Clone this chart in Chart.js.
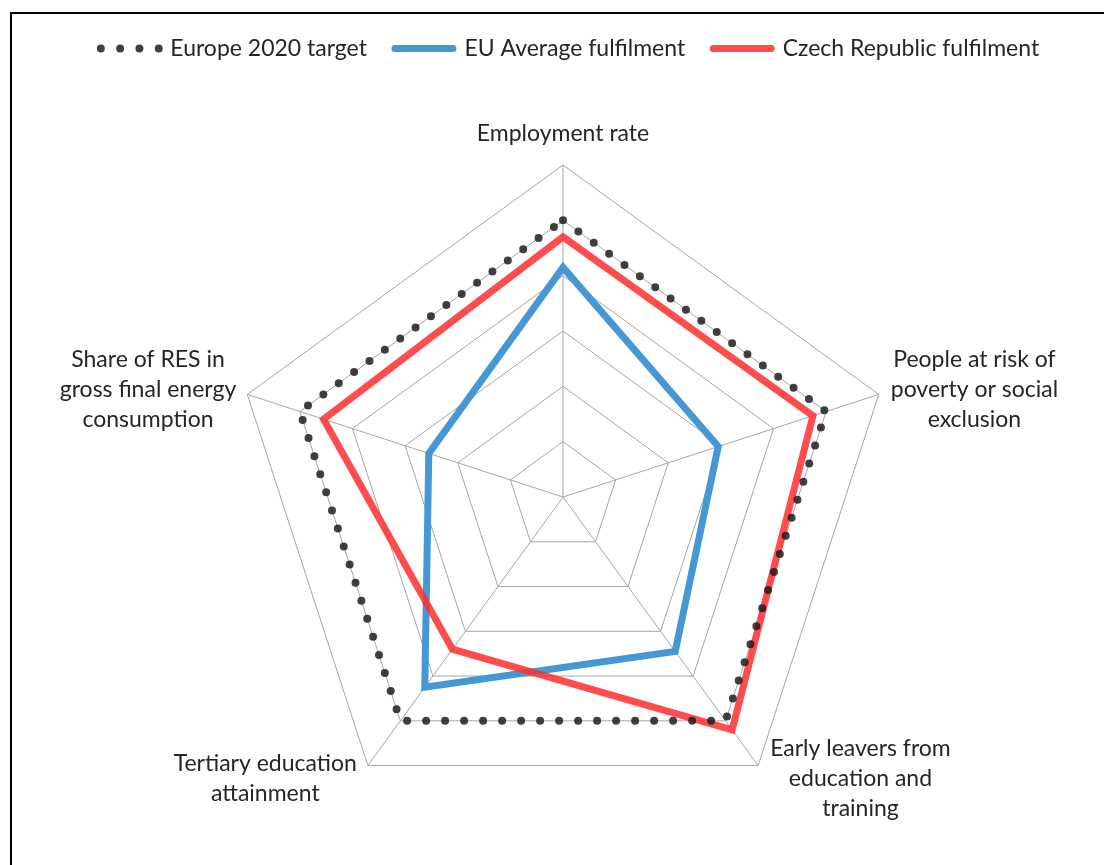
<!DOCTYPE html>
<html lang="en">
<head>
    <meta charset="UTF-8">
    <title>Europe 2020 fulfilment</title>
    <script src="https://cdn.jsdelivr.net/npm/chart.js"></script>
    <style>
        body { margin: 0; background: #fff; }
        #frame { position: absolute; left: 10px; top: 12px; width: 1200px; height: 1000px;
                 border-left: 2px solid #000; border-top: 2px solid #000; }
        #wrap { position: absolute; left: 0; top: 0; width: 1104px; height: 865px; }
    </style>
</head>
<body>
    <div id="frame"></div>
    <div id="wrap"><canvas id="radarChart"></canvas></div>

    <script>
        // axes (clockwise from top)
        const axisLabels = [
            ['Employment rate'],
            ['People at risk of', 'poverty or social', 'exclusion'],
            ['Early leavers from', 'education and', 'training'],
            ['Tertiary education', 'attainment'],
            ['Share of RES in', 'gross final energy', 'consumption']
        ];
        const targetValues = [100, 100, 100, 100, 100];
        const euValues = [83, 59, 69, 85, 51];
        const czValues = [94, 95, 104, 68, 91];

        const FONT = 'Lato, "Open Sans", sans-serif';

        // vertical shift of each label block, from the outer vertex
        const labelDy = [-31, -5, 13, 13, -5];

        const axisLabelPlugin = {
            id: 'axisLabels',
            afterDraw(chart) {
                const scale = chart.scales.r;
                const ctx = chart.ctx;
                ctx.save();
                ctx.font = '23px ' + FONT;
                ctx.fillStyle = '#262626';
                ctx.textAlign = 'center';
                ctx.textBaseline = 'middle';
                const lh = 30;
                axisLabels.forEach((lines, i) => {
                    const p = scale.getPointPosition(i, scale.drawingArea);
                    const w = Math.max(...lines.map(l => ctx.measureText(l).width));
                    let cx = p.x;
                    if (p.x > scale.xCenter + 5) cx = p.x + 12 + w / 2;
                    else if (p.x < scale.xCenter - 5) cx = p.x - 11 - w / 2;
                    const cy = p.y + labelDy[i];
                    lines.forEach((l, k) => {
                        ctx.fillText(l, cx, cy + (k - (lines.length - 1) / 2) * lh);
                    });
                });
                ctx.restore();
            }
        };

        // extra room under the legend, and a small nudge to the right
        const legendSpacer = {
            id: 'legendSpacer',
            beforeInit(chart) {
                const fit = chart.legend.fit;
                chart.legend.fit = function () {
                    fit.bind(this)();
                    this.height += 95;
                };
                const draw = chart.legend.draw;
                chart.legend.draw = function () {
                    this.ctx.save();
                    this.ctx.translate(7, 0);
                    draw.call(this);
                    this.ctx.restore();
                };
            }
        };

        new Chart(document.getElementById('radarChart'), {
            type: 'radar',
            data: {
                labels: axisLabels.map(l => l.join(' ')),
                datasets: [{
                    label: 'Europe 2020 target',
                    data: targetValues,
                    borderColor: 'rgba(30, 30, 30, 0.85)',
                    borderWidth: 8,
                    borderDash: [0, 19],
                    borderCapStyle: 'round',
                    fill: false,
                    order: 0
                }, {
                    label: 'EU Average fulfilment',
                    data: euValues,
                    borderColor: 'rgb(70, 152, 212)',
                    borderWidth: 7,
                    borderJoinStyle: 'miter',
                    fill: false,
                    order: 2
                }, {
                    label: 'Czech Republic fulfilment',
                    data: czValues,
                    borderColor: 'rgba(255, 45, 45, 0.85)',
                    borderWidth: 7,
                    borderJoinStyle: 'miter',
                    fill: false,
                    order: 1
                }]
            },
            options: {
                responsive: true,
                maintainAspectRatio: false,
                animation: false,
                layout: { padding: { top: 9, left: 22, right: 0, bottom: 36 } },
                elements: { point: { radius: 0, hoverRadius: 0 }, line: { tension: 0 } },
                plugins: {
                    tooltip: { enabled: false },
                    legend: {
                        position: 'top',
                        labels: {
                            color: '#262626',
                            font: { family: FONT, size: 23 },
                            usePointStyle: true,
                            pointStyle: 'line',
                            pointStyleWidth: 58,
                            padding: 28,
                            sort: (a, b) => a.datasetIndex - b.datasetIndex,
                            generateLabels(chart) {
                                const items = Chart.defaults.plugins.legend.labels.generateLabels(chart);
                                items.forEach((it) => {
                                    it.pointStyle = 'line';
                                    it.lineCap = 'round';
                                    if (it.datasetIndex === 0) {
                                        it.lineDash = [0, 19.3];
                                        it.lineWidth = 8;
                                    }
                                });
                                return items;
                            }
                        }
                    }
                },
                scales: {
                    r: {
                        min: 0,
                        max: 120,
                        ticks: { stepSize: 20, display: false },
                        grid: { color: '#a6a6a6', lineWidth: 1 },
                        angleLines: { color: '#a6a6a6', lineWidth: 1 },
                        pointLabels: { display: false }
                    }
                }
            },
            plugins: [legendSpacer, axisLabelPlugin]
        });
    </script>
</body>
</html>
